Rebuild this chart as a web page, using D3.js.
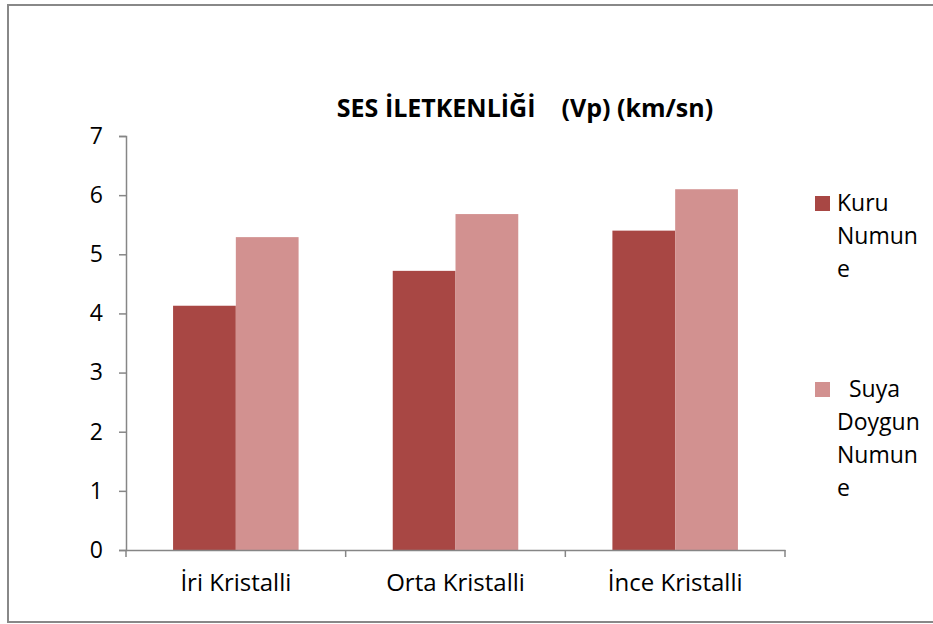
<!DOCTYPE html>
<html>
<head>
<meta charset="utf-8">
<script src="https://cdn.jsdelivr.net/npm/d3@7"></script>
<style>
  body { margin: 0; background: #fff; }
  text { font-family: "Open Sans", "Noto Sans", sans-serif; fill: #000; }
</style>
</head>
<body>
<div id="chart"></div>
<script>
// data
var categories = ["İri Kristalli", "Orta Kristalli", "İnce Kristalli"];
var kuruValues = [4.13, 4.72, 5.40];
var suyaValues = [5.29, 5.68, 6.10];
var seriesNames = ["Kuru Numune", "Suya Doygun Numune"];
var yTicks = [0, 1, 2, 3, 4, 5, 6, 7];

var width = 933, height = 624;
var colours = ["#a84744", "#d29190"];

var svg = d3.select("#chart").append("svg")
  .attr("width", width)
  .attr("height", height);

// outer frame
svg.append("rect")
  .attr("x", 8).attr("y", 5)
  .attr("width", 940).attr("height", 617)
  .attr("fill", "none")
  .attr("stroke", "#888")
  .attr("stroke-width", 2);

var plot = {left: 126, right: 785, top: 136, bottom: 550};

var x = d3.scaleBand()
  .domain(categories)
  .range([plot.left, plot.right])
  .paddingInner(0).paddingOuter(0);

var y = d3.scaleLinear()
  .domain([0, 7])
  .range([plot.bottom, plot.top]);

// bars: Excel style gap width 150%
var barW = x.bandwidth() / 3.5;
var series = [kuruValues, suyaValues];

series.forEach(function(vals, si) {
  svg.selectAll(".bar" + si)
    .data(vals)
    .enter()
    .append("rect")
    .attr("class", "bar" + si)
    .attr("x", (d, i) => x(categories[i]) + barW * 0.75 + si * barW)
    .attr("y", d => y(d))
    .attr("width", barW)
    .attr("height", d => y(0) - y(d))
    .attr("fill", colours[si]);
});

// y axis
var yAxis = svg.append("g")
  .attr("transform", "translate(" + plot.left + ",0)")
  .call(d3.axisLeft(y).tickValues(yTicks).tickSize(7).tickPadding(16).tickFormat(d3.format("d")));
yAxis.select(".domain").attr("stroke", "#868686").attr("stroke-width", 1.5);
yAxis.selectAll(".tick line").attr("stroke", "#868686").attr("stroke-width", 1.5);
yAxis.selectAll(".tick text").style("font-size", "23px");

// x axis
var xAxis = svg.append("g")
  .attr("transform", "translate(0," + plot.bottom + ")")
  .call(d3.axisBottom(x).tickSize(0).tickPadding(24));
xAxis.select(".domain").attr("stroke", "#868686").attr("stroke-width", 1.5);
xAxis.selectAll(".tick text").style("font-size", "24px");
// category boundary ticks
var bounds = categories.map(c => x(c)).concat([plot.right]);
xAxis.selectAll(".bound")
  .data(bounds)
  .enter()
  .append("line")
  .attr("x1", d => d).attr("x2", d => d)
  .attr("y1", 0).attr("y2", 7)
  .attr("stroke", "#868686")
  .attr("stroke-width", 1.5);

// title
svg.append("text")
  .attr("x", 525).attr("y", 117)
  .attr("text-anchor", "middle")
  .style("font-size", "25px")
  .style("font-weight", "bold")
  .attr("xml:space", "preserve")
  .text("SES İLETKENLİĞİ    (Vp) (km/sn)");

// legend
var legendLines = [["Kuru", "Numun", "e"], ["\u00a0 Suya", "Doygun", "Numun", "e"]];
var legendTop = [196, 382];
legendLines.forEach(function(lines, i) {
  svg.append("rect")
    .attr("x", 815).attr("y", legendTop[i])
    .attr("width", 15).attr("height", 15)
    .attr("fill", colours[i]);
  svg.append("g").selectAll("text")
    .data(lines)
    .enter()
    .append("text")
    .attr("x", 837)
    .attr("y", (d, j) => legendTop[i] + 15 + j * 33)
    .style("font-size", "23px")
    .text(d => d);
});
</script>
</body>
</html>
